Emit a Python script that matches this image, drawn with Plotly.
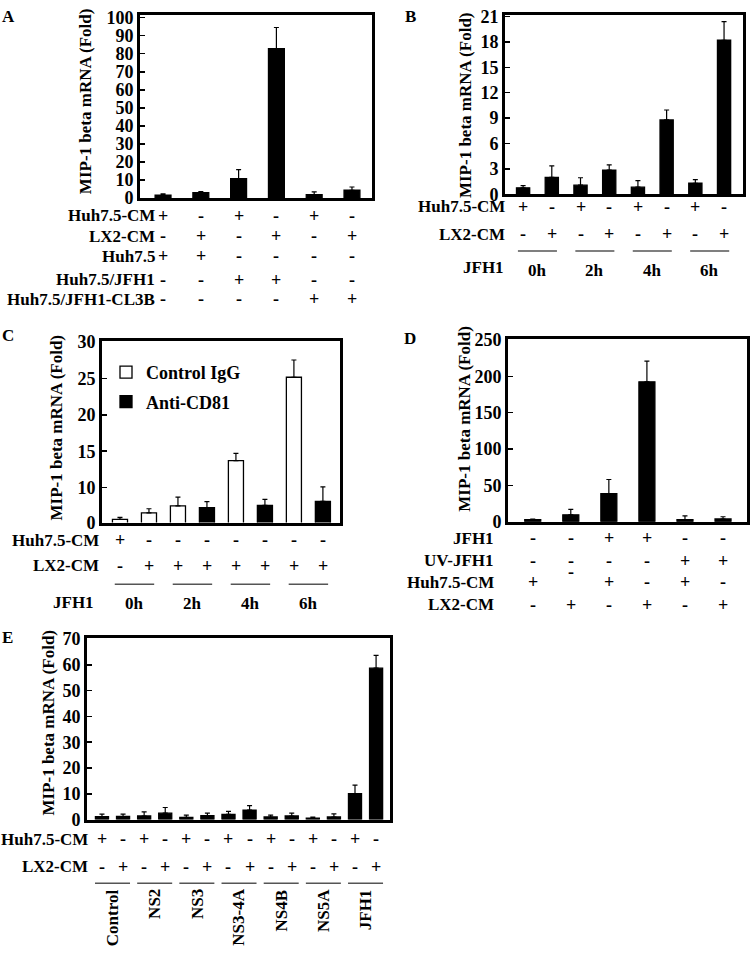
import plotly.graph_objects as go

W, H = 750, 958
FONT = "Liberation Serif, Times New Roman, serif"

# ---------------- data ----------------
# Panel A
A_vals = [1.7, 3.1, 10.8, 82.8, 2.0, 4.4]
A_err = [0.7, 0.6, 5.0, 11.7, 1.5, 1.8]
A_row_labels = ["Huh7.5-CM", "LX2-CM", "Huh7.5", "Huh7.5/JFH1", "Huh7.5/JFH1-CL3B"]
A_signs = [["+", "-", "+", "-", "+", "-"],
           ["-", "+", "-", "+", "-", "+"],
           ["+", "+", "-", "-", "-", "-"],
           ["-", "-", "+", "+", "-", "-"],
           ["-", "-", "-", "-", "+", "+"]]
A_ticks = [0, 10, 20, 30, 40, 50, 60, 70, 80, 90, 100]

# Panel B
B_vals = [0.76, 2.0, 1.07, 2.86, 0.84, 8.78, 1.3, 18.2]
B_err = [0.27, 1.36, 0.88, 0.61, 0.76, 1.18, 0.42, 2.2]
B_row_labels = ["Huh7.5-CM", "LX2-CM"]
B_signs = [["+", "-", "+", "-", "+", "-", "+", "-"],
           ["-", "+", "-", "+", "-", "+", "-", "+"]]
B_times = ["0h", "2h", "4h", "6h"]
B_ticks = [0, 3, 6, 9, 12, 15, 18, 21]

# Panel C
C_series = ["Control IgG", "Anti-CD81"]
C_ctrl_x = [0, 1, 2, 4, 6]
C_ctrl_vals = [5.65, 6.55, 7.49, 13.72, 25.16]
C_ctrl_err = [0.27, 0.55, 1.21, 0.99, 2.37]
C_anti_x = [3, 5, 7]
C_anti_vals = [7.26, 7.58, 8.12]
C_anti_err = [0.81, 0.81, 1.98]
C_row_labels = ["Huh7.5-CM", "LX2-CM"]
C_signs = [["+", "-", "-", "-", "-", "-", "-", "-"],
           ["-", "+", "+", "+", "+", "+", "+", "+"]]
C_times = ["0h", "2h", "4h", "6h"]
C_tick_vals = [5.2, 10, 15, 20, 25, 30]
C_tick_text = ["0", "10", "15", "20", "25", "30"]

# Panel D
D_vals = [2.7, 9.4, 38.5, 192.5, 2.7, 3.6]
D_err = [0.9, 7.6, 19.5, 28.5, 5.3, 3.1]
D_row_labels = ["JFH1", "UV-JFH1", "Huh7.5-CM", "LX2-CM"]
D_signs = [["-", "-", "+", "+", "-", "-"],
           ["-", "-", "-", "-", "+", "+"],
           ["+", "-", "+", "-", "+", "-"],
           ["-", "+", "-", "+", "-", "+"]]
D_ticks = [0, 50, 100, 150, 200, 250]

# Panel E
E_groups = ["Control", "NS2", "NS3", "NS3-4A", "NS4B", "NS5A", "JFH1"]
E_vals = [1.1, 1.2, 1.4, 2.5, 0.9, 1.5, 2.0, 3.7, 1.0, 1.4, 0.6, 1.0, 10.1, 58.7]
E_err = [1.0, 0.9, 1.6, 2.2, 0.8, 1.0, 1.2, 1.7, 0.7, 1.1, 0.4, 1.2, 3.3, 5.0]
E_row_labels = ["Huh7.5-CM", "LX2-CM"]
E_signs = [["+", "-"] * 7, ["-", "+"] * 7]
E_ticks = [0, 10, 20, 30, 40, 50, 60, 70]

Y_TITLE = "MIP-1 beta mRNA (Fold)"


def px(x):
    return x / W


def py(y):
    return 1 - y / H


fig = go.Figure()


def err(arr):
    return dict(type="data", array=arr, arrayminus=[0] * len(arr), symmetric=False,
                color="black", thickness=1.2, width=2.5, visible=True)


def bars(vals, errs, xa, ya, width, x=None, fill="black", name=None, legend=False):
    xs = x if x is not None else list(range(len(vals)))
    fig.add_trace(go.Bar(x=xs, y=vals, error_y=err(errs), xaxis=xa, yaxis=ya,
                         width=width, marker=dict(color=fill, line=dict(color="black", width=1.3)),
                         name=name, showlegend=legend, legendgroup=name))


bars(A_vals, A_err, "x", "y", 0.42)
bars(B_vals, B_err, "x2", "y2", 0.46)
bars(C_ctrl_vals, C_ctrl_err, "x3", "y3", 0.52, x=C_ctrl_x, fill="white", name=C_series[0], legend=True)
bars(C_anti_vals, C_anti_err, "x3", "y3", 0.52, x=C_anti_x, fill="black", name=C_series[1], legend=True)
bars(D_vals, D_err, "x4", "y4", 0.42)
bars(E_vals, E_err, "x5", "y5", 0.62)

# ---------------- axes ----------------
panels = {
    # key: (xdomain px, ydomain px (top,bottom), xrange, yrange)
    "": ((140, 372), (6, 193), [-0.61, 5.53], [0, 101.5]),
    "2": ((505, 743), (6, 189), [-0.63, 7.66], [0, 21.2]),
    "3": ((102, 340), (339, 524), [-0.62, 7.59], [5.2, 30.1]),
    "4": ((508, 747), (337, 523), [-0.65, 5.63], [0, 251]),
    "5": ((87, 390), (642, 827), [-0.71, 13.66], [0, 70.3]),
}
yticks = {"": (A_ticks, None), "2": (B_ticks, None), "3": (C_tick_vals, C_tick_text),
          "4": (D_ticks, None), "5": (E_ticks, None)}

layout = {}
for k, (xd, yd, xr, yr) in panels.items():
    layout["xaxis" + k] = dict(domain=[px(xd[0]), px(xd[1])], range=xr, anchor="y" + k,
                               showline=True, mirror=True, linewidth=3, linecolor="black",
                               showgrid=False, zeroline=False, showticklabels=False, ticks="",
                               fixedrange=True)
    tv, tt = yticks[k]
    ya = dict(domain=[py(yd[1]), py(yd[0])], range=yr, anchor="x" + k,
              showline=True, mirror=True, linewidth=3, linecolor="black",
              showgrid=False, zeroline=False, ticks="inside", ticklen=5, tickwidth=1.5,
              tickcolor="black", tickvals=tv, fixedrange=True,
              tickfont=dict(family=FONT, size=18, color="black", weight="bold"))
    if tt is not None:
        ya["ticktext"] = tt
    layout["yaxis" + k] = ya

annotations = []
shapes = []


def text(x, y, s, size=17, xref="paper", xanchor="center", yanchor="middle", angle=0):
    annotations.append(dict(x=x, y=y, xref=xref, yref="paper", text="<b>" + s + "</b>",
                            showarrow=False, xanchor=xanchor, yanchor=yanchor, textangle=angle,
                            borderpad=0, font=dict(family=FONT, size=size, color="black")))


def rows(labels, signs, ys, label_right, xref, sign_size=18, offsets=None):
    for i, (lab, row) in enumerate(zip(labels, signs)):
        text(px(label_right), py(ys[i]), lab, xanchor="right")
        for j, s in enumerate(row):
            yy = ys[i]
            if offsets and (i, j) in offsets:
                yy = offsets[(i, j)]
            text(j, py(yy), s, size=sign_size, xref=xref)


def underlines(n_groups, ypix, half, xref, labels=None, ylab=None, angle=0):
    for g in range(n_groups):
        c = 2 * g + 0.5
        shapes.append(dict(type="line", xref=xref, yref="paper", x0=c - half, x1=c + half,
                           y0=py(ypix), y1=py(ypix), line=dict(color="#555", width=1.5)))
        if labels:
            if angle:
                text(c, py(ylab), labels[g], xref=xref, yanchor="top", angle=angle)
            else:
                text(c, py(ylab), labels[g], xref=xref)


# panel A
rows(A_row_labels, A_signs, [211, 232, 252, 276, 296], 156, "x")
# panel B
rows(B_row_labels, B_signs, [202, 230], 506, "x2")
underlines(4, 247, 0.68, "x2", B_times, 267)
text(px(505), py(264), "JFH1", xanchor="right")
# panel C
rows(C_row_labels, C_signs, [542, 568], 100, "x3")
underlines(4, 587, 0.68, "x3", C_times, 607)
text(px(95), py(605), "JFH1", xanchor="right")
# panel D
rows(D_row_labels, D_signs, [540, 563, 585, 608], 495, "x4", offsets={(2, 1): 574})
# panel E
rows(E_row_labels, E_signs, [847, 875], 89, "x5")
underlines(7, 892, 0.83, "x5", E_groups, 897, angle=-90)

# y-axis titles
for xc, yc in [(85, 94), (465, 98), (57, 427), (465, 418), (49, 728)]:
    text(px(xc), py(yc), Y_TITLE, size=17, angle=-90)

# panel letters
for s, xc, yc in [("A", 8, 8), ("B", 410, 8), ("C", 8, 333), ("D", 410, 336), ("E", 7, 641)]:
    text(px(xc), py(yc), s, size=17)

fig.update_layout(
    width=W, height=H, margin=dict(l=0, r=0, t=0, b=0),
    paper_bgcolor="white", plot_bgcolor="white",
    annotations=annotations, shapes=shapes, bargap=0,
    legend=dict(x=px(106), y=py(352), xanchor="left", yanchor="top",
                font=dict(family=FONT, size=18, color="black", weight="bold"),
                bgcolor="rgba(0,0,0,0)", tracegroupgap=3, itemwidth=30),
    **layout,
)

fig.write_html("out.html", config={"displayModeBar": False, "staticPlot": True},
               post_script="document.body.style.margin='0';document.body.style.overflow='hidden';")
